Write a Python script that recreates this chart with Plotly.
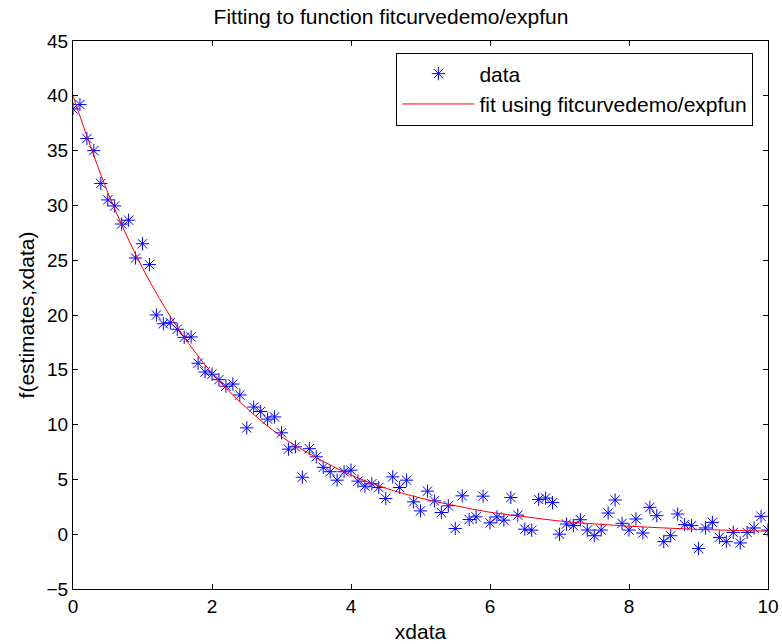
import plotly.graph_objects as go

xdata = [round(i * 0.1, 1) for i in range(101)]
ydata = [
    38.8, 39.2, 36.1, 35.0, 32.0, 30.5, 29.95, 28.3, 28.65, 25.2,
    26.5, 24.6, 20.0, 19.2, 19.3, 18.7, 17.96, 18.0, 15.6, 14.8,
    14.6, 14.1, 13.5, 13.7, 12.7, 9.7, 11.6, 11.2, 10.5, 10.7,
    9.25, 7.76, 7.97, 5.2, 7.8, 7.06, 6.1, 5.7, 4.93, 5.7,
    5.84, 4.84, 4.38, 4.6, 4.26, 3.26, 5.23, 4.26, 4.93, 2.95,
    2.13, 3.93, 3.04, 1.98, 2.59, 0.52, 3.5, 1.34, 1.58, 3.47,
    1.03, 1.58, 1.28, 3.35, 1.74, 0.46, 0.37, 3.17, 3.3, 2.88,
    0.0, 0.93, 0.78, 1.32, 0.38, -0.14, 0.38, 1.93, 3.12, 0.99,
    0.38, 1.39, 0.11, 2.45, 1.69, -0.68, -0.14, 1.84, 0.87, 0.78,
    -1.3, 0.57, 1.08, -0.29, -0.68, 0.16, -0.8, 0.16, 0.57, 1.63,
    0.38,
]

# fitted curve, read at every 0.5
xfit = [i * 0.5 for i in range(21)]
yfit = [
    40.0, 31.2, 24.3, 18.9, 14.7, 11.5, 8.9, 7.0, 5.4, 4.2,
    3.3, 2.6, 2.0, 1.6, 1.2, 0.94, 0.73, 0.57, 0.44, 0.35, 0.27,
]

font = "Liberation Sans, Arial, Helvetica, sans-serif"

fig = go.Figure()
fig.add_trace(go.Scatter(
    x=xdata, y=ydata, mode="markers", name="data",
    marker=dict(symbol="asterisk-open", size=11, color="blue",
                line=dict(color="blue", width=1)),
))
fig.add_trace(go.Scatter(
    x=xfit, y=yfit, mode="lines", name="fit using fitcurvedemo/expfun",
    line=dict(color="red", width=1, shape="spline"),
))

axis = dict(
    showline=True, linecolor="black", linewidth=1, mirror="ticks",
    ticks="inside", ticklen=5, tickcolor="black", showgrid=False,
    zeroline=False, tickfont=dict(size=19, color="black"), automargin=False,
)
fig.update_xaxes(range=[0, 10], tickvals=[0, 2, 4, 6, 8, 10],
                 title=dict(text="xdata", font=dict(size=21), standoff=8), **axis)
fig.update_yaxes(range=[-5, 45], tickvals=list(range(-5, 50, 5)),
                 title=dict(text="f(estimates,xdata)", font=dict(size=21), standoff=6),
                 **axis)

fig.update_layout(
    width=782, height=644,
    margin=dict(l=73, r=14, t=41, b=55),
    paper_bgcolor="white", plot_bgcolor="white",
    font=dict(family=font, color="black", size=19),
    title=dict(text="Fitting to function fitcurvedemo/expfun", x=0.5, xanchor="center",
               yref="container", y=0.986, yanchor="top", font=dict(size=21)),
    legend=dict(x=0.979, y=0.979, xanchor="right", yanchor="top",
                bordercolor="black", borderwidth=1, bgcolor="white",
                font=dict(size=21), itemwidth=72, tracegroupgap=0),
    showlegend=True,
)

fig.write_html("out.html", config={"displayModeBar": False},
               post_script="document.body.style.margin='0';")
